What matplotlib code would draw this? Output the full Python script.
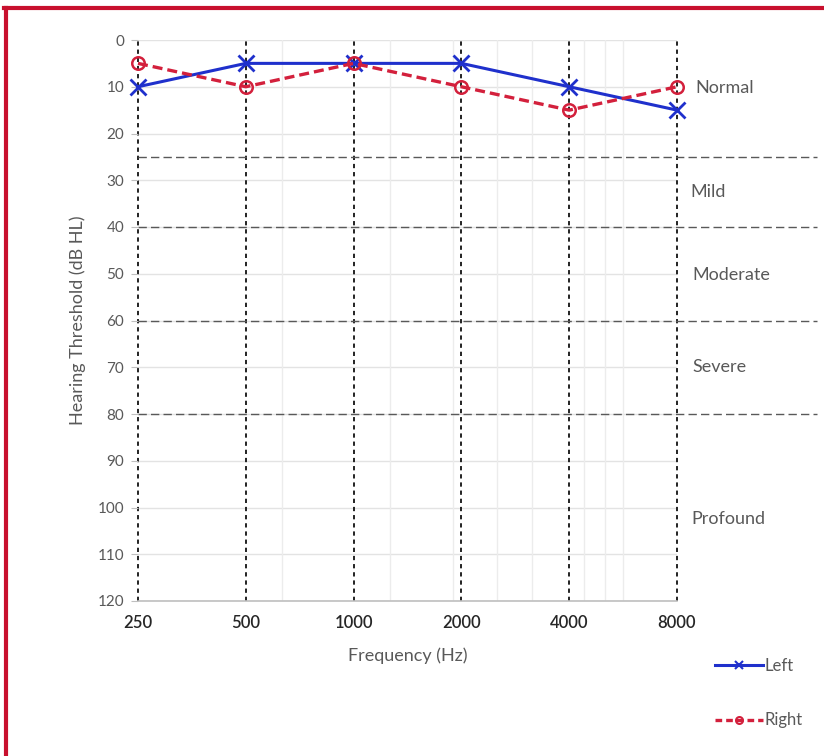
import matplotlib.pyplot as plt
from matplotlib.lines import Line2D
from matplotlib.ticker import FixedLocator, NullLocator
import matplotlib.transforms as mtransforms

plt.rcParams['font.family'] = ['Lato', 'DejaVu Sans']

# audiogram data
freqs = [250, 500, 1000, 2000, 4000, 8000]
left_ear = [10, 5, 5, 5, 10, 15]
right_ear = [5, 10, 5, 10, 15, 10]

# hearing loss bands
band_limits = [25, 40, 60, 80]
band_names = ['Normal', 'Mild', 'Moderate', 'Severe', 'Profound']
band_label_y = [10.3, 32.5, 50.3, 70, 102.5]

# faint minor verticals (as in the source spreadsheet)
minor_freqs = [630, 1260, 1890, 2520, 3150, 4410, 5040, 5670]

blue = '#1f30cc'
red = '#d3203c'
grey = '#595959'

fig = plt.figure(figsize=(8.24, 7.56), dpi=100)
ax = fig.add_axes([138 / 824, 1 - 601 / 756, (677 - 138) / 824, (601 - 40) / 756])

ax.set_xscale('log', base=2)
ax.set_xlim(250, 8000)
ax.set_ylim(120, 0)

ax.xaxis.set_major_locator(FixedLocator(freqs))
ax.xaxis.set_minor_locator(NullLocator())
ax.set_xticklabels([str(f) for f in freqs], fontsize=12, color='#262626', fontweight='semibold')
ax.set_yticks(range(0, 121, 10))
ax.set_yticklabels([str(v) for v in range(0, 121, 10)], fontsize=11, color=grey)
ax.tick_params(axis='x', length=0, pad=10)
ax.tick_params(axis='y', length=5, color='#bfbfbf', pad=5)

for s in ['top', 'right', 'left']:
    ax.spines[s].set_visible(False)
ax.spines['bottom'].set_color('#bfbfbf')
ax.spines['bottom'].set_linewidth(1.2)

# grid
for v in range(0, 121, 10):
    ax.axhline(v, color='#e3e3e3', lw=1, zorder=0)
for f in minor_freqs:
    ax.axvline(f, color='#ececec', lw=1, zorder=0)
for f in freqs:
    ax.axvline(f, color='#222222', lw=1.4, ls=(0, (2.2, 2)), zorder=1, clip_on=False)

# band boundaries extend past the plot
for b in band_limits:
    ax.axhline(b, xmin=0, xmax=(817 - 138) / (677 - 138), color=grey, lw=1,
               ls=(0, (6, 3)), clip_on=False, zorder=1)

trans = mtransforms.blended_transform_factory(ax.transAxes, ax.transData)
xoff = [(695 - 138) / 539, (690 - 138) / 539, (692 - 138) / 539, (692 - 138) / 539, (691 - 138) / 539]
for name, y, xo in zip(band_names, band_label_y, xoff):
    ax.text(xo, y, name, transform=trans, fontsize=13, color=grey, va='center', ha='left')

ax.plot(freqs, left_ear, color=blue, lw=2.2, marker='x', markersize=11, markeredgewidth=2,
        clip_on=False, zorder=3)
ax.plot(freqs, right_ear, color=red, lw=2.4, ls=(0, (3, 1.5)), marker='o', markersize=9,
        markerfacecolor='none', markeredgewidth=1.8, clip_on=False, zorder=3)

ax.set_xlabel('Frequency (Hz)', fontsize=13, color=grey, labelpad=12)
ax.set_ylabel('Hearing Threshold (dB HL)', fontsize=13, color=grey, labelpad=8)

handles = [
    Line2D([], [], color=blue, lw=2.2, marker='x', markersize=6, markeredgewidth=1.5),
    Line2D([], [], color=red, lw=2.4, ls=(0, (2, 1.2)), marker='o', markersize=5,
           markerfacecolor='none', markeredgewidth=1.5),
]
fig.legend(handles, ['Left', 'Right'], loc='upper left',
           bbox_to_anchor=(700 / 824, 1 - 643 / 756), frameon=False, fontsize=12,
           labelspacing=2.3, handlelength=2.9, handletextpad=0.05, labelcolor=grey)

# red frame on top and left edges
fig.add_artist(Line2D([6 / 824, 6 / 824], [0, 1 - 8 / 756], transform=fig.transFigure,
                      color='#c8102e', lw=3))
fig.add_artist(Line2D([4 / 824, 1], [1 - 8 / 756, 1 - 8 / 756], transform=fig.transFigure,
                      color='#c8102e', lw=3))

fig.savefig('out.png', dpi=100)
